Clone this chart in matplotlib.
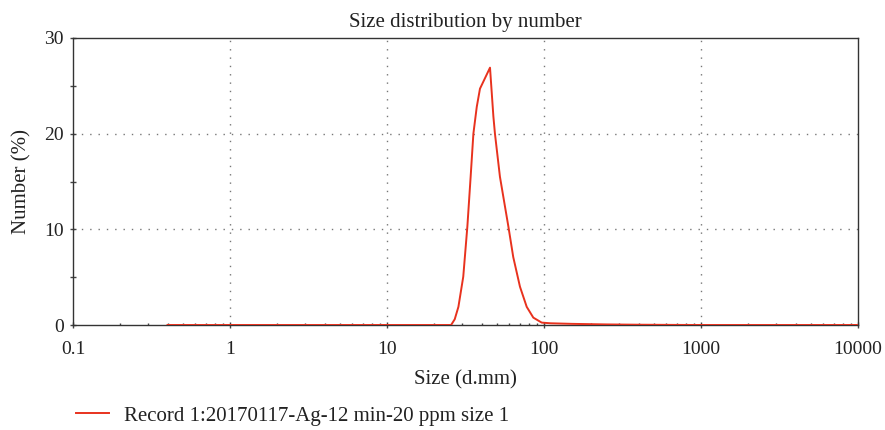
import matplotlib
matplotlib.use("Agg")
import matplotlib.pyplot as plt
from matplotlib.ticker import FixedLocator, NullFormatter

plt.rcParams['font.family'] = ['Liberation Serif', 'DejaVu Serif']

# size (d.nm) and number (%)
size = [0.4, 1.0, 5.0, 10.0, 20.0, 25.6, 27.0, 28.5, 30.6, 32.5, 34.1, 35.5,
        37.3, 39.1, 45.3, 47.6, 48.7, 52.4, 56.4, 59.3, 63.7, 70.3, 77.6,
        85.5, 96.7, 110.0, 150.0, 250.0, 400.0, 700.0, 1000.0, 10000.0]
number = [0.0, 0.0, 0.0, 0.0, 0.0, 0.0, 0.6, 1.9, 5.05, 10.3, 15.5, 20.0,
          22.8, 24.7, 26.9, 21.8, 20.0, 15.5, 12.4, 10.3, 7.1, 4.0, 1.9,
          0.77, 0.25, 0.18, 0.12, 0.06, 0.03, 0.01, 0.0, 0.0]

label = "Record 1:20170117-Ag-12 min-20 ppm size 1"
x_ticks = [0.1, 1, 10, 100, 1000, 10000]
x_ticklabels = ["0.1", "1", "10", "100", "1000", "10000"]
y_ticks = [0, 10, 20, 30]

fig = plt.figure(figsize=(8.85, 4.3), dpi=100)
ax = fig.add_axes([73 / 885, 1 - 325 / 430, 785 / 885, 287 / 430])

ax.plot(size, number, color='#e8321e', lw=1.4, label=label, zorder=3)

ax.set_xscale('log')
ax.set_xlim(0.1, 10000)
ax.set_ylim(0, 30)
ax.set_xticks(x_ticks)
ax.set_xticklabels(x_ticklabels)
ax.xaxis.set_minor_locator(FixedLocator(
    [m * 10.0 ** e for e in range(-1, 4) for m in range(2, 10)]))
ax.xaxis.set_minor_formatter(NullFormatter())
ax.set_yticks(y_ticks)
ax.yaxis.set_minor_locator(FixedLocator([5, 15, 25]))

for sp in ax.spines.values():
    sp.set_color('#333333')
    sp.set_linewidth(1.0)

ax.tick_params(which='major', direction='inout', length=5, width=1,
               color='#444444', labelsize=14, labelcolor='#222222')
ax.tick_params(axis='y', which='minor', direction='inout', length=5, width=1,
               color='#444444')
ax.tick_params(axis='x', which='minor', direction='in', length=1.5, width=1,
               color='#444444')
ax.tick_params(axis='x', pad=9)
ax.tick_params(axis='y', pad=4)

# dotted grid at the inner major ticks only
for gx in [1, 10, 100, 1000]:
    ax.axvline(gx, color='#777777', lw=1, ls=(0, (1, 5)), zorder=1)
for gy in [10, 20]:
    ax.axhline(gy, color='#777777', lw=1, ls=(0, (1, 5)), zorder=1)

ax.set_title("Size distribution by number", fontsize=15, color='#222222', pad=8)
ax.set_xlabel("Size (d.mm)", fontsize=15, color='#222222', labelpad=9)
ax.set_ylabel("Number (%)", fontsize=15, color='#222222', labelpad=9)

fig.legend(loc='center left', bbox_to_anchor=(57 / 885, 1 - 416 / 430),
           frameon=False, fontsize=15, handlelength=1.6, handletextpad=0.7,
           labelcolor='#222222')

fig.savefig("out.png", dpi=100)
